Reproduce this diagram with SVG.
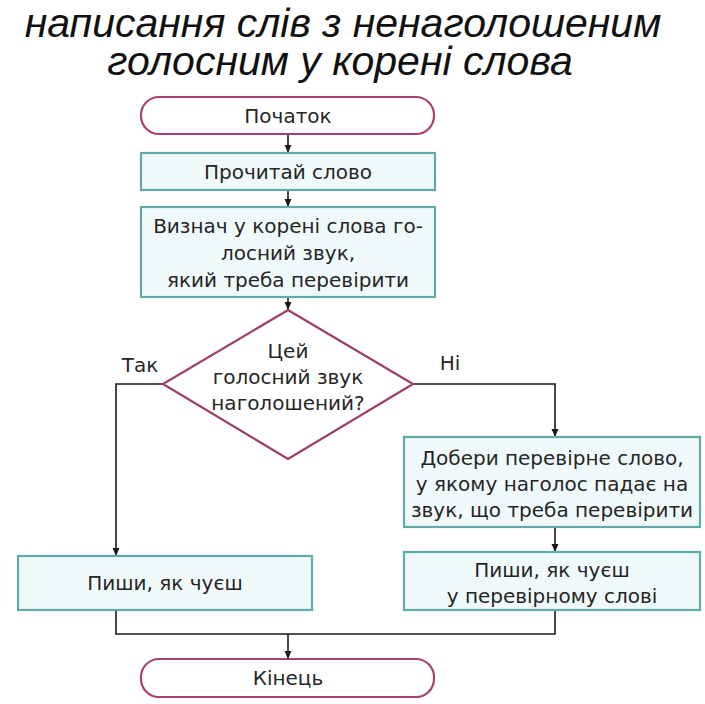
<svg xmlns="http://www.w3.org/2000/svg" width="705" height="704" viewBox="0 0 705 704">
<defs>
<marker id="arr" markerWidth="10" markerHeight="10" refX="9" refY="5" orient="auto" markerUnits="userSpaceOnUse">
<path d="M1,1.5 L9,5 L1,8.5 Z" fill="#1a1a1a"/>
</marker>
</defs>
<style>
.title{font-family:"Liberation Sans",Arial,sans-serif;font-style:italic;font-size:41px;fill:#111;text-anchor:middle}
.t{font-family:"DejaVu Sans","Liberation Sans",sans-serif;font-size:20px;fill:#262626;text-anchor:middle}
.term{fill:#ffffff;stroke:#a8416f;stroke-width:2.2}
.proc{fill:#f1fafb;stroke:#62a9aa;stroke-width:2.2}
.dec{fill:#ffffff;stroke:#9c3d6a;stroke-width:2.2}
.c{fill:none;stroke:#1a1a1a;stroke-width:1.6}
</style>
<rect width="705" height="704" fill="#ffffff"/>
<g id="title">
<text class="title" x="343" y="37">написання слів з ненаголошеним</text>
<text class="title" x="340" y="75">голосним у корені слова</text>
</g>
<g id="connectors">
<line class="c" x1="288" y1="134" x2="288" y2="153" marker-end="url(#arr)"/>
<line class="c" x1="288" y1="190" x2="288" y2="207" marker-end="url(#arr)"/>
<line class="c" x1="288" y1="297" x2="288" y2="310" marker-end="url(#arr)"/>
<polyline class="c" points="163,384 116,384 116,556" marker-end="url(#arr)"/>
<polyline class="c" points="413,384 555,384 555,437" marker-end="url(#arr)"/>
<line class="c" x1="555" y1="527" x2="555" y2="552" marker-end="url(#arr)"/>
<polyline class="c" points="116,610 116,634 555,634 555,610"/>
<line class="c" x1="288" y1="634" x2="288" y2="659" marker-end="url(#arr)"/>
<text class="t" x="140" y="372">Так</text>
<text class="t" x="450" y="370">Ні</text>
</g>
<g id="start">
<rect class="term" x="141" y="97" width="293" height="37" rx="18" ry="18"/>
<text class="t" x="288" y="123">Початок</text>
</g>
<g id="read">
<rect class="proc" x="141" y="153" width="294" height="37"/>
<text class="t" x="288" y="179">Прочитай слово</text>
</g>
<g id="define">
<rect class="proc" x="141" y="207" width="294" height="90"/>
<text class="t" x="288" y="233">Визнач у корені слова го-</text>
<text class="t" x="288" y="260">лосний звук,</text>
<text class="t" x="288" y="287">який треба перевірити</text>
</g>
<g id="decision">
<polygon class="dec" points="288,310 413,384 288,459 163,384"/>
<text class="t" x="288" y="358">Цей</text>
<text class="t" x="288" y="384">голосний звук</text>
<text class="t" x="288" y="410">наголошений?</text>
</g>
<g id="pick">
<rect class="proc" x="404" y="437" width="296" height="90"/>
<text class="t" x="552" y="465">Добери перевірне слово,</text>
<text class="t" x="552" y="491">у якому наголос падає на</text>
<text class="t" x="552" y="517">звук, що треба перевірити</text>
</g>
<g id="writeLeft">
<rect class="proc" x="18" y="556" width="294" height="54"/>
<text class="t" x="165" y="590">Пиши, як чуєш</text>
</g>
<g id="writeRight">
<rect class="proc" x="404" y="552" width="296" height="58"/>
<text class="t" x="552" y="577">Пиши, як чуєш</text>
<text class="t" x="552" y="603">у перевірному слові</text>
</g>
<g id="end">
<rect class="term" x="141" y="659" width="293" height="38" rx="18" ry="18"/>
<text class="t" x="288" y="685">Кінець</text>
</g>
</svg>
